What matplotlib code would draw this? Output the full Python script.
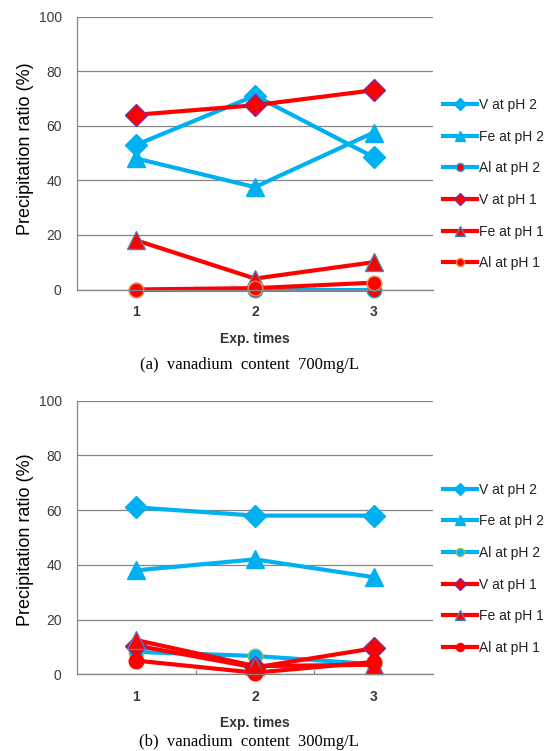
import matplotlib
matplotlib.use("Agg")
import matplotlib.pyplot as plt
from matplotlib.ticker import FixedLocator, NullLocator

# ---------------- data ----------------
exp_times = [1, 2, 3]
series_labels = ["V at pH 2", "Fe at pH 2", "Al at pH 2", "V at pH 1", "Fe at pH 1", "Al at pH 1"]

# (a) vanadium content 700 mg/L
a_v_ph2 = [53, 71, 48.5]
a_fe_ph2 = [48, 37.5, 57.5]
a_al_ph2 = [0, 0, 0]
a_v_ph1 = [64, 67.5, 73]
a_fe_ph1 = [18, 4, 10]
a_al_ph1 = [0, 0.5, 2.5]

# (b) vanadium content 300 mg/L
b_v_ph2 = [61, 58, 58]
b_fe_ph2 = [38, 42, 35.5]
b_al_ph2 = [8.2, 6.7, 3.7]
b_v_ph1 = [10.5, 2.5, 9.5]
b_fe_ph1 = [12.5, 3, 3.5]
b_al_ph1 = [5, 0.6, 4.5]

yticks = [0, 20, 40, 60, 80, 100]
captions = ["(a)  vanadium  content  700mg/L", "(b)  vanadium  content  300mg/L"]

CYAN = "#00B0F0"
RED = "#FF0000"
GRAY = "#868686"

W, H = 552, 751
fig = plt.figure(figsize=(W / 100, H / 100), dpi=100)

def px_ax(left, right, top, bottom):
    return [left / W, 1 - bottom / H, (right - left) / W, (bottom - top) / H]

styles_a = [
    dict(color=CYAN, marker="D", ms=11, mfc=CYAN, mec=CYAN),
    dict(color=CYAN, marker="^", ms=13, mfc=CYAN, mec=CYAN),
    dict(color=CYAN, marker="o", ms=10.5, mfc=RED, mec=CYAN),
    dict(color=RED, marker="D", ms=11, mfc=RED, mec="#7030A0"),
    dict(color=RED, marker="^", ms=13, mfc=RED, mec="#4F81BD"),
    dict(color=RED, marker="o", ms=10.5, mfc=RED, mec="#F79646"),
]
styles_b = [
    dict(color=CYAN, marker="D", ms=11, mfc=CYAN, mec=CYAN),
    dict(color=CYAN, marker="^", ms=13, mfc=CYAN, mec=CYAN),
    dict(color=CYAN, marker="o", ms=10.5, mfc=CYAN, mec="#9BBB59"),
    dict(color=RED, marker="D", ms=11, mfc=RED, mec="#7030A0"),
    dict(color=RED, marker="^", ms=13, mfc=RED, mec="#4F81BD"),
    dict(color=RED, marker="o", ms=10.5, mfc=RED, mec=RED),
]

panels = [
    dict(rect=(77, 433, 16.5, 289.5), data=[a_v_ph2, a_fe_ph2, a_al_ph2, a_v_ph1, a_fe_ph1, a_al_ph1],
         styles=styles_a, xlab_y=339, cap_y=365, ylab_y=149),
    dict(rect=(77, 433, 400.7, 674.3), data=[b_v_ph2, b_fe_ph2, b_al_ph2, b_v_ph1, b_fe_ph1, b_al_ph1],
         styles=styles_b, xlab_y=723, cap_y=742, ylab_y=540),
]

for i, p in enumerate(panels):
    l, r, t, b = p["rect"]
    ax = fig.add_axes(px_ax(l, r, t, b))
    handles = []
    for vals, st, lab in zip(p["data"], p["styles"], series_labels):
        h, = ax.plot(exp_times, vals, lw=3, mew=1.0, label=lab, clip_on=False, **st)
        handles.append(h)
    ax.set_xlim(0.5, 3.5)
    ax.set_ylim(0, 100)
    ax.set_yticks(yticks)
    ax.set_xticks(exp_times)
    ax.xaxis.set_minor_locator(FixedLocator([1.5, 2.5]))
    ax.yaxis.set_minor_locator(NullLocator())
    ax.grid(axis="y", color=GRAY, lw=0.9)
    ax.set_axisbelow(True)
    for s in ["top", "right"]:
        ax.spines[s].set_visible(False)
    for s in ["left", "bottom"]:
        ax.spines[s].set_color(GRAY)
        ax.spines[s].set_linewidth(0.9)
    ax.tick_params(axis="y", length=0, pad=11, labelsize=10, labelcolor="#3a3a3a")
    ax.tick_params(axis="x", which="major", length=0, pad=11, labelsize=10, labelcolor="#3a3a3a")
    ax.tick_params(axis="x", which="minor", direction="in", length=3, color=GRAY, width=0.9)
    for lbl in ax.get_xticklabels() + ax.get_yticklabels():
        lbl.set_family("Liberation Sans")
    for lbl in ax.get_xticklabels():
        lbl.set_fontweight("bold")
    leg = ax.legend(handles=handles, loc="center left", bbox_to_anchor=(1.028, 0.386),
                    frameon=False, borderpad=0, borderaxespad=0, handlelength=2.45,
                    handletextpad=0.15, labelspacing=1.27, markerscale=0.55,
                    prop=dict(family="Liberation Sans", size=10))
    for txt in leg.get_texts():
        txt.set_color("#222222")
    cx = (l + r) / 2 / W
    fig.text(cx, 1 - p["xlab_y"] / H, "Exp. times", ha="center", va="center",
             family="Liberation Sans", fontweight="bold", size=10, color="#333333")
    fig.text(249 / W, 1 - p["cap_y"] / H, captions[i], ha="center", va="center",
             family="Liberation Serif", size=12, color="black")
    fig.text(26 / W, 1 - p["ylab_y"] / H, "Precipitation ratio (%)", ha="center", va="center",
             rotation=90, family="Liberation Sans", size=13, color="black")

fig.savefig("out.png", dpi=100)
